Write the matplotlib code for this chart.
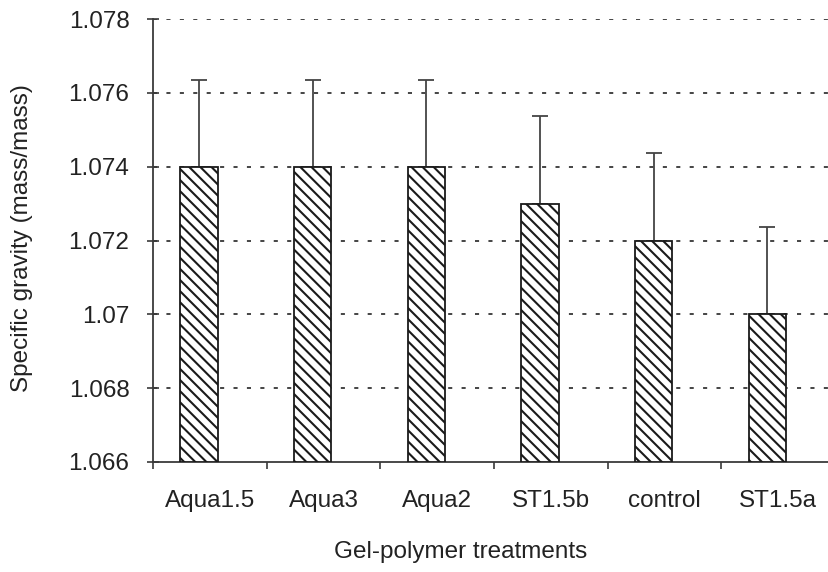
import matplotlib
matplotlib.use("Agg")
import matplotlib.pyplot as plt
import numpy as np

categories = ["Aqua1.5", "Aqua3", "Aqua2", "ST1.5b", "control", "ST1.5a"]
values = [1.074, 1.074, 1.074, 1.073, 1.072, 1.070]
errors = [0.00236, 0.00236, 0.00236, 0.00236, 0.00236, 0.00236]
ytick_vals = [1.066, 1.068, 1.070, 1.072, 1.074, 1.076, 1.078]
ytick_labels = ["1.066", "1.068", "1.07", "1.072", "1.074", "1.076", "1.078"]

plt.rcParams['font.family'] = ['Liberation Sans', 'DejaVu Sans']
plt.rcParams['hatch.linewidth'] = 1.5
plt.rcParams['hatch.color'] = '#222222'

W, H = 829, 572
fig = plt.figure(figsize=(W / 100, H / 100), dpi=100)
ax = fig.add_axes([153 / W, 1 - 462 / H, (835 - 153) / W, (462 - 19) / H])

txt = '#222222'
line = '#3a3a3a'
x = np.arange(len(categories))
offset = -0.095
bw = 0.33
base = 1.066

ax.bar(x + offset, np.array(values) - base, bottom=base, width=bw,
       color='white', edgecolor='#1a1a1a', linewidth=1.3, hatch='\\\\\\', zorder=3)
ax.errorbar(x + offset, values, yerr=[np.zeros(len(errors)), errors], fmt='none',
            ecolor='#444444', elinewidth=1.3, capsize=6, capthick=1.3, zorder=2)

ax.set_xlim(-0.5, 5.5)
ax.set_ylim(1.066, 1.078)
for v in ytick_vals[1:]:
    ax.axhline(v, color='#444444', linewidth=1.4, linestyle=(0, (2.1, 4.8)), zorder=1)

for s in ['top', 'right']:
    ax.spines[s].set_visible(False)
for s in ['left', 'bottom']:
    ax.spines[s].set_color(line)
    ax.spines[s].set_linewidth(1.3)

ax.set_yticks(ytick_vals)
ax.set_yticklabels(ytick_labels)
ax.tick_params(axis='y', direction='inout', length=8, width=1.2, color=line,
               labelsize=17.5, labelcolor=txt, pad=13)

ax.set_xticks(x)
ax.set_xticklabels(categories)
ax.tick_params(axis='x', which='major', length=0, labelsize=17.5, labelcolor=txt, pad=20)
ax.set_xticks(np.arange(-0.5, 6.0, 1.0), minor=True)
ax.tick_params(axis='x', which='minor', direction='out', length=5, width=1.2, color=line)

fig.text(461 / W, 1 - 552 / H, "Gel-polymer treatments", ha='center', va='center',
         fontsize=17.5, color=txt)
fig.text(22 / W, 1 - 238 / H, "Specific gravity (mass/mass)", ha='center', va='center',
         rotation=90, fontsize=17.5, color=txt)

fig.savefig("out.png", dpi=100)
